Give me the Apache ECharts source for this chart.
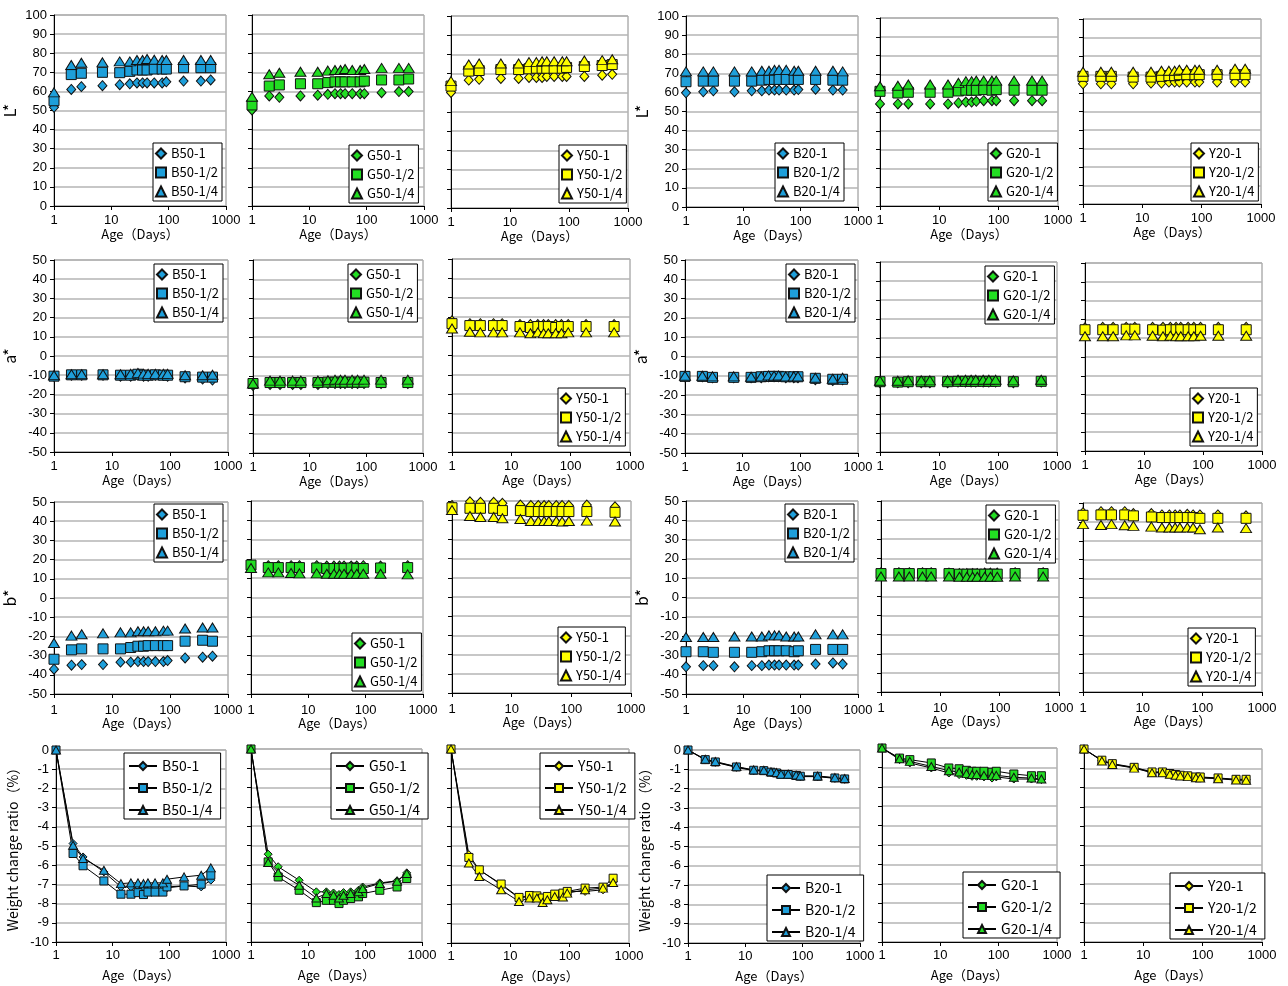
<!DOCTYPE html>
<html><head><meta charset="utf-8">
<script src="https://cdn.jsdelivr.net/npm/echarts@6/dist/echarts.min.js"></script>
<style>html,body{margin:0;padding:0;background:#fff}#c{width:1288px;height:986px}</style>
</head><body><div id="c"></div><script>
// ---- ages (days) ----
const ageA = [1,2,3,7,14,21,28,35,42,56,77,91,182,365,540];
const ageB = [1,2,3,5,7,14,21,28,35,42,56,70,91,182,540];
const xTicks = [1,10,100,1000];

// ---- L* ----
const L_B50_1 = [51.7,61,62.5,63,63.5,64,64.4,64.4,64.4,64.4,64.4,65,65.4,65.4,66];
const L_B50_2 = [55.1,68.8,69.5,70,69.8,70.5,71.2,71.2,71.2,71.7,71.7,71.7,72.4,72.4,72.4];
const L_B50_4 = [59.5,73.8,75,75.2,75.7,75.7,76.4,76.4,77,76.6,76.4,76.4,76.4,76.4,76.4];
const L_G50_1 = [50.3,57.6,56.9,57.6,58,58.5,58.8,58.8,58.8,58.8,58.8,58.8,59.3,59.9,59.9];
const L_G50_2 = [52.9,62.8,63.4,64,64,64.6,65,65,65,65,65,65.4,66,66,66.5];
const L_G50_4 = [57.2,69,69.8,70.3,70.3,70.9,71.2,71.2,71.7,71.2,71.2,71.7,72.3,72.3,72.3];
const L_Y50_1 = [60.2,66.6,67,67.5,67.5,68,68,68,68.5,68.5,68.5,68.5,68.5,69.2,69.6];
const L_Y50_2 = [63.5,71.3,71.6,72.1,72.1,72.5,72.8,72.8,72.8,72.8,72.8,73.2,73.7,74.2,74.7];
const L_Y50_4 = [66.1,74.7,75.3,75.3,75.3,76,76,76.4,76.4,76.4,76.4,76.4,76.8,77,77.5];
const L_B20_1 = [59.8,60.3,60.8,60.3,60.8,60.8,61.2,61.2,61.2,61.2,61.2,61.5,61.7,61.2,61.2];
const L_B20_2 = [65.6,65.9,65.9,65.9,65.9,66.4,66.8,66.8,66.8,66.8,66.8,66.8,66.8,66.4,66.4];
const L_B20_4 = [71,71,71,71,71,71.3,71.3,71.8,71.8,71.8,71.3,71.3,71.3,71.3,71];
const L_G20_1 = [54.3,54.3,54.3,54.3,54.3,54.8,55.3,55.3,55.7,56,56,56,56,56,56];
const L_G20_2 = [61,60.1,60.5,60.5,60.5,61.2,61.6,61.6,61.6,61.9,61.6,61.9,61.6,61.6,61.6];
const L_G20_4 = [63.7,64,64.6,64.6,64.6,65.5,66.4,66.4,66.7,66.7,66.7,66.7,66.7,66.7,66.7];
const L_Y20_1 = [65,65,65,65,65.4,65.4,65.9,65.9,65.9,65.9,65.9,65.9,65.9,65.9,65.9];
const L_Y20_2 = [69,69,69,68.6,68.6,69,69.4,69.4,69.9,69.9,69.9,69.9,69.9,69.9,69.9];
const L_Y20_4 = [71.5,71.5,71.5,71.5,71.5,72,72,72,72.6,72.6,72.6,72.6,72.6,73.1,73.1];

// ---- a* ----
const a_B50_1 = [-10.5,-10,-10,-10,-10.5,-10.5,-10,-10.5,-10.5,-10,-10,-10.5,-11.5,-12,-12.5];
const a_B50_2 = [-10.5,-9.8,-9.8,-9.8,-10,-10,-9.5,-10,-10,-9.8,-10,-10,-10.8,-11,-11];
const a_B50_4 = [-10,-9.5,-9.5,-9.5,-9.5,-9.3,-8.8,-9.2,-9.3,-9.3,-9.3,-9.3,-10,-10,-9.8];
const a_G50_1 = [-15,-14.5,-14.5,-14.5,-14.5,-14.5,-14,-14,-14,-14,-14,-14,-14,-14,-14];
const a_G50_2 = [-14,-13.5,-13.5,-13.5,-13.5,-13.5,-13.3,-13.3,-13.3,-13.3,-13.3,-13.3,-13.3,-13.5,-13.5];
const a_G50_4 = [-14,-12.5,-12.5,-12.5,-12.5,-12.5,-12.3,-12,-12,-12,-12,-12,-12,-12,-12];
const a_Y50_1 = [18,16.5,16.5,16.5,16.5,16,16,16,16,16,16,16,16,16,16];
const a_Y50_2 = [16.5,15.5,15.5,15.5,15.5,15,14.5,15,15,15,14.5,15,15,15,15];
const a_Y50_4 = [14,12.3,12,12,12,12,11.5,12,11.5,11.5,11.5,11.5,12,12,12];
const a_B20_1 = [-10.5,-10.5,-11,-11,-11,-11,-10.5,-10.5,-10.5,-11,-11,-11,-12,-12.5,-12];
const a_B20_2 = [-10.3,-10.3,-10.8,-10.8,-10.8,-10.5,-10.3,-10.3,-10.3,-10.5,-10.5,-10.5,-11.3,-11.8,-11.8];
const a_B20_4 = [-10,-10,-10.3,-10.3,-10.5,-10.3,-9.8,-10,-9.8,-10.3,-10.3,-10.3,-11,-11.5,-11];
const a_G20_1 = [-13.5,-13.5,-13.5,-13.5,-13.5,-13.5,-13.2,-13.2,-13.2,-13.2,-13.2,-13.2,-13.2,-13.5,-13.2];
const a_G20_2 = [-13,-13.2,-13,-13,-13,-13,-12.8,-12.8,-12.8,-12.8,-12.8,-12.8,-12.8,-13,-12.8];
const a_G20_4 = [-12.5,-12.5,-12.3,-12.3,-12.3,-12.3,-12,-12,-12,-12,-12,-12,-12,-12.3,-12];
const a_Y20_1 = [15.5,15.8,15.8,15.8,15.8,15.8,15.8,15.8,15.8,15.8,15.8,15.8,15.8,15.8,15.8];
const a_Y20_2 = [14.5,14.5,14.5,14.8,14.8,14.5,14.3,14.5,14.5,14.5,14.5,14.5,14.5,14.5,14.5];
const a_Y20_4 = [11,11,11,11.5,11.5,11.3,11,11.3,11,11,11,11,11.3,11.3,11.3];

// ---- b* ----
const b_B50_1 = [-37.1,-35,-34.7,-34.7,-33.4,-33.4,-33.1,-33.1,-33.1,-33.1,-33.1,-32.6,-31.2,-30.8,-30.3];
const b_B50_2 = [-31.9,-27,-26.5,-26.5,-26.5,-25.8,-25.1,-25.1,-24.8,-24.8,-24.8,-24.8,-22.5,-22,-22.5];
const b_B50_4 = [-23.4,-19.6,-18.9,-18.4,-17.9,-17.9,-17.3,-17.3,-17.3,-17.3,-17,-17,-15.9,-15.4,-15.4];
const b_G50_1 = [17,16.5,16.5,16.5,16.5,16.5,16.3,16.3,16.3,16.3,16.3,16.3,16.5,16.3,16.5];
const b_G50_2 = [16.8,15.5,15.5,15.5,15.5,15.3,15,15,15,15,15.3,15,15,15.3,15.5];
const b_G50_4 = [15.3,13,13,12.7,12.5,12.5,12.3,12.3,12.3,12.3,12.3,12.3,12.3,12.3,12];
const b_Y50_1 = [47.6,49.6,49.3,49.3,48.8,47.9,47.6,47.6,47.6,47.6,47.6,47.6,47.6,47.9,47];
const b_Y50_2 = [46.5,46.2,46.2,46.2,45,45,44.5,44.5,44.5,44.5,44.5,44.5,44.5,44.5,44.1];
const b_Y50_4 = [45.3,42.2,41.7,41.7,41,40.6,39.6,39.6,39.6,39.6,39.6,39.3,39.6,39.8,39.3];
const b_B20_1 = [-35.9,-35.3,-35.3,-35.9,-35.3,-35.3,-35,-35,-35,-35,-35,-35,-34.5,-33.9,-34.5];
const b_B20_2 = [-28.1,-28.1,-28.4,-28.4,-28.4,-28.1,-27.6,-27.6,-27.6,-27.6,-28.1,-27.6,-26.9,-26.9,-26.9];
const b_B20_4 = [-20.5,-20.5,-20.5,-20.2,-20.2,-20.2,-19.6,-19.6,-19.6,-20.2,-20.2,-20.2,-19.1,-19.1,-19.1];
const b_G20_1 = [12.5,12.5,12.5,12.5,12.5,12.3,12,12,12,12,12.3,12.3,12.3,12.5,12.5];
const b_G20_2 = [12,12,12,12,12,12,11.7,11.7,11.7,11.7,11.7,11.7,11.7,12,12];
const b_G20_4 = [10.5,10.5,10.5,10.5,10.5,10.5,10.3,10.3,10.3,10.3,10.3,10.3,10.3,10.5,10.5];
const b_Y20_1 = [44.9,45.4,45.4,45.4,44.4,44.4,43.7,43.7,43.7,43.7,44,43.7,43.7,43.7,43.2];
const b_Y20_2 = [43.5,43.7,43.7,43.7,43.2,42.6,42.3,42.3,42.3,42.3,42.3,42.3,41.9,41.9,41.9];
const b_Y20_4 = [38.8,38.4,38.8,38.2,37.9,37.5,37,37,37,37,37,37,36.1,37,36.7];

// ---- weight change ratio (%) ----
const w_B50_1 = [0,-4.87,-5.57,-6.35,-7.13,-7.13,-7.08,-7.18,-7.13,-7.13,-7.08,-7.18,-7.08,-7.13,-6.78];
const w_B50_2 = [0,-5.39,-6.03,-6.82,-7.51,-7.51,-7.43,-7.53,-7.4,-7.4,-7.4,-7.13,-7.08,-6.99,-6.52];
const w_B50_4 = [0,-4.96,-5.65,-6.26,-6.96,-6.92,-6.92,-6.96,-6.92,-6.92,-6.92,-6.73,-6.61,-6.52,-6.14];
const w_G50_1 = [0,-5.45,-6.1,-6.8,-7.4,-7.4,-7.46,-7.54,-7.44,-7.4,-7.32,-7.15,-6.94,-6.83,-6.42];
const w_G50_2 = [0,-5.85,-6.63,-7.32,-7.96,-7.84,-7.84,-8.01,-7.84,-7.75,-7.66,-7.49,-7.32,-7.15,-6.71];
const w_G50_4 = [0,-5.88,-6.4,-7.06,-7.72,-7.49,-7.58,-7.72,-7.58,-7.49,-7.4,-7.23,-6.97,-6.85,-6.45];
const w_Y50_1 = [0,-5.45,-6.23,-7.0,-7.68,-7.6,-7.6,-7.77,-7.68,-7.55,-7.46,-7.34,-7.34,-7.26,-6.83];
const w_Y50_2 = [0,-5.59,-6.23,-6.96,-7.65,-7.55,-7.57,-7.68,-7.6,-7.48,-7.43,-7.34,-7.17,-7.12,-6.66];
const w_Y50_4 = [0,-5.88,-6.57,-7.26,-7.86,-7.68,-7.68,-7.91,-7.77,-7.6,-7.63,-7.43,-7.26,-7.17,-6.88];
const w_B20_1 = [0,-0.52,-0.64,-0.9,-1.07,-1.09,-1.17,-1.21,-1.29,-1.29,-1.34,-1.38,-1.38,-1.47,-1.52];
const w_B20_2 = [0,-0.5,-0.62,-0.88,-1.05,-1.07,-1.15,-1.19,-1.27,-1.27,-1.32,-1.36,-1.36,-1.45,-1.5];
const w_B20_4 = [0,-0.48,-0.6,-0.86,-1.03,-1.05,-1.13,-1.17,-1.25,-1.25,-1.3,-1.34,-1.35,-1.43,-1.48];
const w_G20_1 = [0,-0.6,-0.77,-1.03,-1.29,-1.37,-1.41,-1.46,-1.46,-1.49,-1.55,-1.49,-1.6,-1.6,-1.63];
const w_G20_2 = [0,-0.52,-0.6,-0.77,-1.03,-1.07,-1.15,-1.2,-1.2,-1.2,-1.25,-1.2,-1.34,-1.43,-1.43];
const w_G20_4 = [0,-0.55,-0.69,-0.95,-1.17,-1.24,-1.32,-1.37,-1.37,-1.41,-1.41,-1.41,-1.51,-1.55,-1.6];
const w_Y20_1 = [0,-0.6,-0.78,-0.97,-1.21,-1.21,-1.29,-1.34,-1.38,-1.41,-1.47,-1.47,-1.52,-1.59,-1.59];
const w_Y20_2 = [0,-0.58,-0.76,-0.95,-1.19,-1.19,-1.27,-1.32,-1.36,-1.39,-1.45,-1.45,-1.5,-1.57,-1.57];
const w_Y20_4 = [0,-0.62,-0.8,-0.99,-1.23,-1.23,-1.31,-1.36,-1.4,-1.43,-1.49,-1.5,-1.54,-1.61,-1.62];

// ---- structure ----
const groups = ['B50','G50','Y50','B20','G20','Y20'];
const suffixes = ['-1','-1/2','-1/4'];
const yNames = ['L*','a*','b*','Weight change ratio（%）'];
const yMins = [0,-50,-50,-10];
const yMaxs = [100,50,50,0];
const yIntervals = [10,10,10,1];
const rowValues = [
  [[L_B50_1,L_B50_2,L_B50_4],[L_G50_1,L_G50_2,L_G50_4],[L_Y50_1,L_Y50_2,L_Y50_4],[L_B20_1,L_B20_2,L_B20_4],[L_G20_1,L_G20_2,L_G20_4],[L_Y20_1,L_Y20_2,L_Y20_4]],
  [[a_B50_1,a_B50_2,a_B50_4],[a_G50_1,a_G50_2,a_G50_4],[a_Y50_1,a_Y50_2,a_Y50_4],[a_B20_1,a_B20_2,a_B20_4],[a_G20_1,a_G20_2,a_G20_4],[a_Y20_1,a_Y20_2,a_Y20_4]],
  [[b_B50_1,b_B50_2,b_B50_4],[b_G50_1,b_G50_2,b_G50_4],[b_Y50_1,b_Y50_2,b_Y50_4],[b_B20_1,b_B20_2,b_B20_4],[b_G20_1,b_G20_2,b_G20_4],[b_Y20_1,b_Y20_2,b_Y20_4]],
  [[w_B50_1,w_B50_2,w_B50_4],[w_G50_1,w_G50_2,w_G50_4],[w_Y50_1,w_Y50_2,w_Y50_4],[w_B20_1,w_B20_2,w_B20_4],[w_G20_1,w_G20_2,w_G20_4],[w_Y20_1,w_Y20_2,w_Y20_4]]
];
const rowAges = [
  [ageA,ageA,ageA,ageA,ageA,ageA],
  [ageA,ageB,ageB,ageA,ageB,ageB],
  [ageA,ageB,ageB,ageA,ageB,ageB],
  [ageA,ageA,ageA,ageA,ageA,ageA]
];

// ---- layout (pixels) ----
const boxes = [
  [[54,15,226,206],[252,15,424,206],[451,16,628,208],[686,16,858,207],[880,18,1058,206],[1083,19,1261,204]],
  [[54,260,228,452],[253,260,423,453],[452,259,630,452],[685,260,858,453],[880,262,1057,452],[1085,263,1262,451]],
  [[54,502,228,694],[251,501,423,694],[452,501,631,693],[686,501,858,694],[881,501,1059,692],[1083,503,1262,692]],
  [[56,750,226,942],[251,749,422,942],[451,749,629,943],[688,750,860,943],[882,748,1057,942],[1084,749,1262,942]]
];
const legendPos = [
  [[153,143],[349,145],[559,145],[775,143],[988,143],[1191,143]],
  [[154,264],[348,264],[558,388],[786,264],[985,266],[1190,388]],
  [[154,504],[352,633],[558,627],[785,504],[986,505],[1188,628]],
  [[124,753],[331,753],[540,753],[767,875],[963,872],[1170,873]]
];
const labelMargins = [8,8,10,7];
const nameGaps = [22,22,23,27];
const fills = {B:'#1e9fda', G:'#22dd22', Y:'#ffff00'};
const symbols = ['diamond','rect','triangle'];
const scatterSizes = [[9,10],[10,10],[11,9]];
const lineSizes = [[8,8],[8,8],[9,8]];
const JP = '"Noto Sans CJK JP", "Noto Sans", sans-serif';
const AR = '"Liberation Sans", Arial, sans-serif';

const grids=[], xAxes=[], yAxes=[], series=[], legends=[];
for (let r=0;r<4;r++){
  const zw = '\u200b'.repeat(r);
  for (let c=0;c<6;c++){
    const idx = r*6+c;
    const [l,t,rr,b] = boxes[r][c];
    grids.push({left:l, top:t, width:rr-l, height:b-t, show:true, borderColor:'#888', borderWidth:1,
      backgroundColor:'#fff', containLabel:false, outerBoundsMode:'none'});
    xAxes.push({type:'log', logBase:10, gridIndex:idx, min:xTicks[0], max:xTicks[xTicks.length-1],
      name:'Age（Days）', nameLocation:'middle', nameGap:nameGaps[r], nameMoveOverlap:false,
      nameTextStyle:{fontFamily:JP, fontSize:13, color:'#000'},
      axisLine:{show:true, onZero:false, lineStyle:{color:'#000', width:1}},
      axisTick:{show:true, length:4, lineStyle:{color:'#000'}},
      minorTick:{show:false}, splitLine:{show:false},
      axisLabel:{margin:labelMargins[r], fontFamily:AR, fontSize:13, color:'#000', formatter:v=>String(Math.round(v))}});
    const showY = (c===0||c===3);
    yAxes.push({type:'value', gridIndex:idx, min:yMins[r], max:yMaxs[r], interval:yIntervals[r],
      name: showY ? yNames[r] : '', nameLocation:'middle', nameGap:36, nameRotate:90, nameMoveOverlap:false,
      nameTextStyle:{fontFamily:JP, fontSize: r===3 ? 14 : 16, color:'#000'},
      axisLine:{show:true, onZero:false, lineStyle:{color:'#000', width:1}},
      axisTick:{show:true, length:4, lineStyle:{color:'#000'}},
      splitLine:{show:true, lineStyle:{color:'#b4b4b4', width:1.5}},
      axisLabel:{show:showY, margin:7, fontFamily:AR, fontSize:13, color:'#000'}});
    const g = groups[c];
    const fill = fills[g[0]];
    const names = [];
    for (let s=0;s<3;s++){
      const nm = g + suffixes[s] + zw;
      names.push(nm);
      const ages = rowAges[r][c];
      const vals = rowValues[r][c][s];
      const data = ages.map((a,i)=>[a, vals[i]]);
      if (r<3){
        series.push({type:'scatter', name:nm, xAxisIndex:idx, yAxisIndex:idx, data,
          symbol:symbols[s], symbolSize:scatterSizes[s],
          itemStyle:{color:fill, borderColor:'#111', borderWidth:1, opacity:1},
          emphasis:{disabled:true}, animation:false});
      } else {
        series.push({type:'line', name:nm, xAxisIndex:idx, yAxisIndex:idx, data,
          symbol:symbols[s], symbolSize:lineSizes[s], showSymbol:true, showAllSymbol:true,
          lineStyle:{color:'#000', width:1},
          itemStyle:{color:fill, borderColor:'#111', borderWidth:1},
          emphasis:{disabled:true}, animation:false});
      }
    }
    const [ll,lt] = legendPos[r][c];
    legends.push({data:names, left:ll, top:lt, orient:'vertical', selectedMode:false,
      backgroundColor:'#fff', borderColor:'#000', borderWidth:1,
      padding: r<3 ? [4,4,3,2] : [6,8,2,4],
      itemGap: r<3 ? 6 : 8,
      itemWidth: r<3 ? 10 : 28, itemHeight: r<3 ? 10 : 10,
      formatter: n => n.replace(/\u200b/g,''),
      textStyle:{fontFamily:JP, fontSize: r<3 ? 13 : 14, color:'#000'}});
  }
}

const chart = echarts.init(document.getElementById('c'), null, {renderer:'canvas', width:1288, height:986});
chart.setOption({
  animation:false,
  backgroundColor:'#fff',
  grid:grids, xAxis:xAxes, yAxis:yAxes, series, legend:legends,
  tooltip:{show:false}
});
</script></body></html>
